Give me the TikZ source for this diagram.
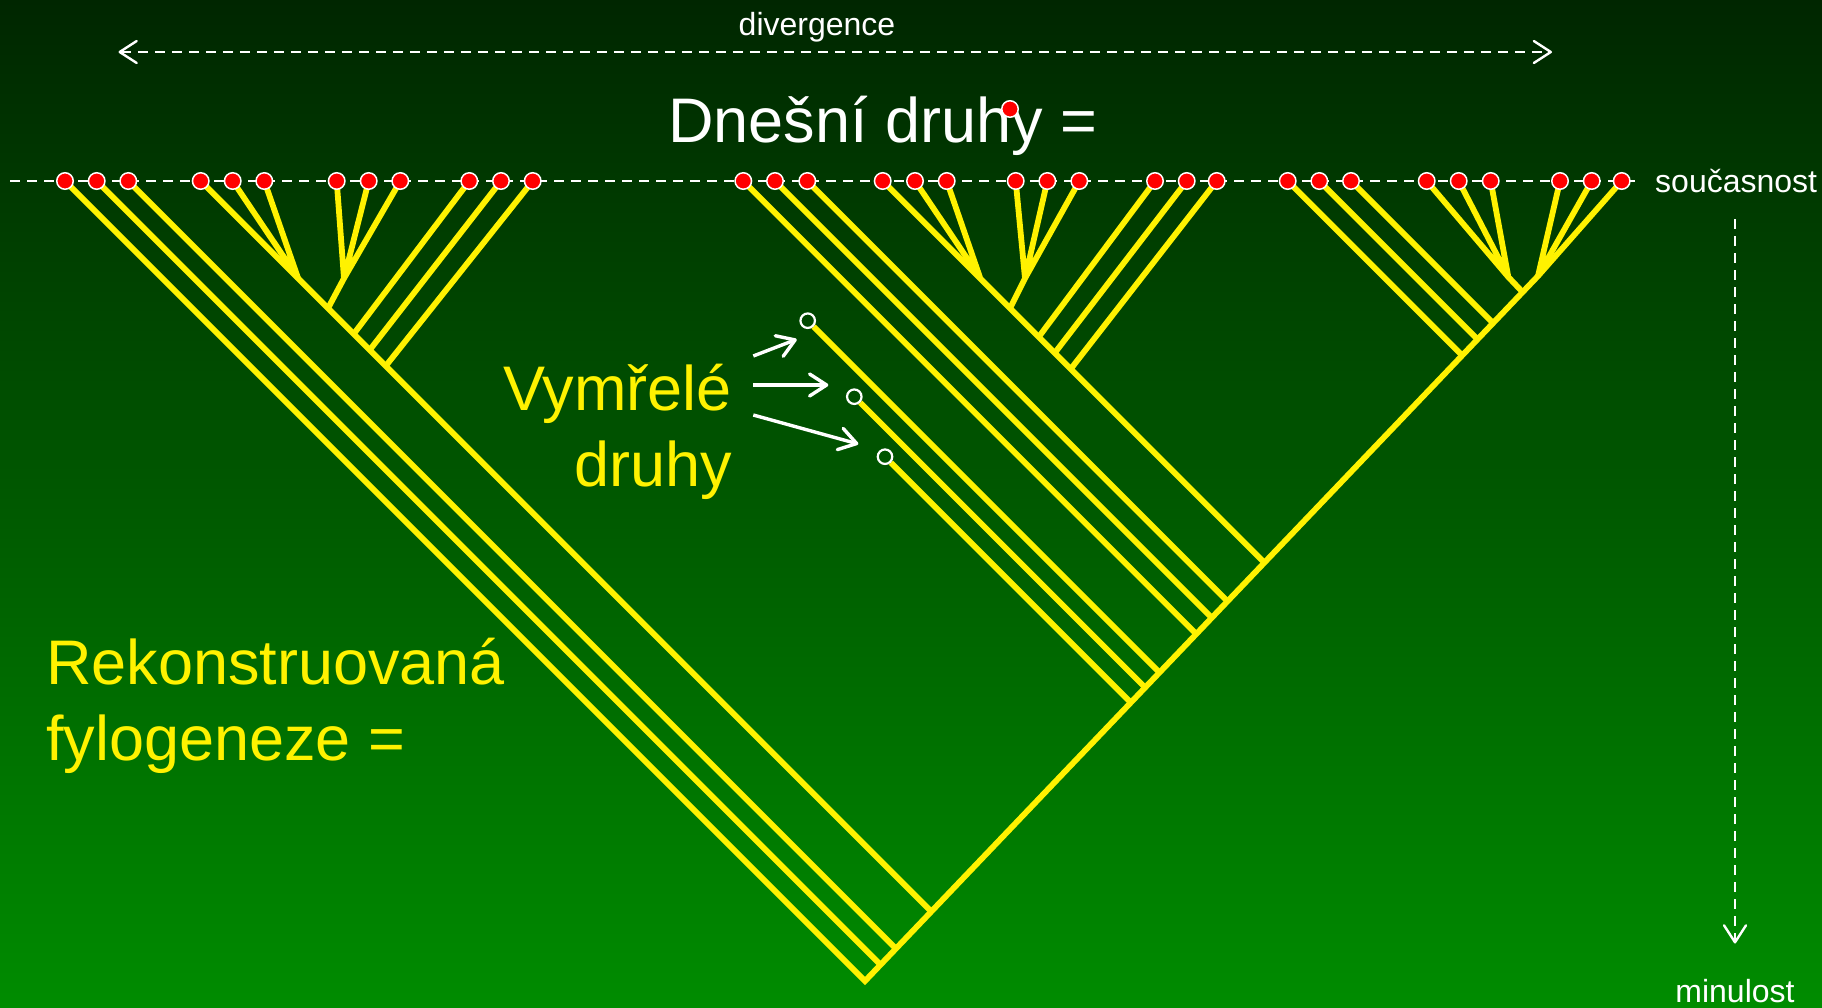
\documentclass[tikz,border=0pt]{standalone}
\usepackage{fontspec}
\setmainfont{Liberation Sans}
\usetikzlibrary{arrows.meta}

\definecolor{zelenaH}{RGB}{0,38,0}
\definecolor{zelenaD}{RGB}{0,140,0}

\pgfdeclarelayer{pozadi}
\pgfdeclarelayer{vetve}
\pgfsetlayers{pozadi,vetve,main}

\tikzset{
  druh/.style={circle, fill=red, draw=white, line width=1.5pt, minimum size=16.5pt, inner sep=0pt},
  vymrely/.style={circle, draw=white, line width=2.2pt, minimum size=14.5pt, inner sep=0pt},
  vetev/.style={draw=yellow, line width=5.8pt},
  osa/.style={draw=white, line width=2.4pt, dash pattern=on 10pt off 7pt},
  sipka/.style={draw=white, line width=3.4pt, ->},
  velky/.style={font=\fontsize{63}{76}\selectfont, inner sep=0pt},
  maly/.style={font=\fontsize{32}{38}\selectfont, text=white, inner sep=0pt},
}

\begin{document}
\begin{tikzpicture}[x=1pt, y=-1pt, >={Straight Barb[length=17pt, width=22pt, round]}]
    \useasboundingbox (0,0) rectangle (1822,1007);
    % Pozadí
    \begin{pgfonlayer}{pozadi}
        \shade[top color=zelenaH, bottom color=zelenaD] (0,0) rectangle (1822,1007);
    \end{pgfonlayer}

    % Osy: současnost, divergence, minulost
    \coordinate (t0) at (10,181);
    \coordinate (t1) at (1642,181);
    \draw[osa] (t0) -- (t1);
    \node[maly, anchor=base west] (soucasnost) at (1655,192) {současnost};
    \coordinate (d0) at (118.5,52);
    \coordinate (d1) at (1552,52);
    \draw[osa, <->] (d0) -- (d1);
    \node[maly, anchor=base] (divergence) at (817,35) {divergence};
    \coordinate (m0) at (1735,219);
    \coordinate (m1) at (1735,943.5);
    \draw[osa, ->] (m0) -- (m1);
    \node[maly, anchor=base] (minulost) at (1735,1002) {minulost};

    % Dnešní druhy
    \foreach \n/\x in {a1/65, a2/96.7, a3/128.3, a4/200.7, a5/232.7, a6/264.3,
        a7/336.7, a8/368.7, a9/400.3, a10/469.3, a11/501, a12/532.7,
        b1/743.3, b2/775, b3/807.3, b4/882.7, b5/915, b6/946.7,
        b7/1015.7, b8/1047.3, b9/1079.3, b10/1155, b11/1186.7, b12/1216.7,
        c1/1287.7, c2/1319.3, c3/1351, c4/1426.7, c5/1458.7, c6/1490.7,
        c7/1560, c8/1591.7, c9/1621.7}
        \node[druh] (\n) at (\x,181) {};

    % Vymřelé druhy
    \node[vymrely] (e1) at (807.7,320.7) {};
    \node[vymrely] (e2) at (854.3,396.7) {};
    \node[vymrely] (e3) at (885,456.7) {};

    % Uzly fylogeneze
    \coordinate (R) at (865,981);
    \coordinate (T) at (1538,276);
    \coordinate (ja2) at (880.5,964.8);
    \coordinate (ja3) at (895.9,948.6);
    \coordinate (ja4) at (931.3,911.6);
    \coordinate (P1) at (298,278);
    \coordinate (Q1) at (344,278.3);
    \coordinate (S1) at (328,308.3);
    \coordinate (ga10) at (353.7,334);
    \coordinate (ga11) at (369.7,350);
    \coordinate (ga12) at (385.7,366);
    \coordinate (jb1) at (1196.3,634);
    \coordinate (jb2) at (1211.8,617.8);
    \coordinate (jb3) at (1227.6,601.3);
    \coordinate (jb4) at (1264.4,562.7);
    \coordinate (P2) at (980,277.5);
    \coordinate (Q2) at (1025,278.3);
    \coordinate (S2) at (1010,308.3);
    \coordinate (gb10) at (1038.7,337);
    \coordinate (gb11) at (1054.7,353);
    \coordinate (gb12) at (1070.7,369);
    \coordinate (je1) at (1159.5,672.5);
    \coordinate (je2) at (1145.2,687.6);
    \coordinate (je3) at (1130.9,702.6);
    \coordinate (jc1) at (1462.2,355.5);
    \coordinate (jc2) at (1477.6,339.3);
    \coordinate (jc3) at (1493.1,323.1);
    \coordinate (PB) at (1508.3,277);
    \coordinate (jc4) at (1522.5,292);

    % Větve
    \begin{pgfonlayer}{vetve}
        \draw[vetev] (a1.center) -- (R) -- (T) -- (c9.center);
        \draw[vetev] (a2.center) -- (ja2);
        \draw[vetev] (a3.center) -- (ja3);
        \draw[vetev] (a4.center) -- (ja4);
        \draw[vetev] (a5.center) -- (P1) (a6.center) -- (P1);
        \draw[vetev] (a7.center) -- (Q1) (a8.center) -- (Q1) (a9.center) -- (Q1) -- (S1);
        \foreach \i in {10,11,12}
            \draw[vetev] (a\i.center) -- (ga\i);
        \draw[vetev] (b1.center) -- (jb1);
        \draw[vetev] (b2.center) -- (jb2);
        \draw[vetev] (b3.center) -- (jb3);
        \draw[vetev] (b4.center) -- (jb4);
        \draw[vetev] (b5.center) -- (P2) (b6.center) -- (P2);
        \draw[vetev] (b7.center) -- (Q2) (b8.center) -- (Q2) (b9.center) -- (Q2) -- (S2);
        \foreach \i in {10,11,12}
            \draw[vetev] (b\i.center) -- (gb\i);
        \foreach \i in {1,2,3}
            \draw[vetev] (e\i) -- (je\i);
        \foreach \i in {1,2,3}
            \draw[vetev] (c\i.center) -- (jc\i);
        \draw[vetev] (c4.center) -- (PB) (c5.center) -- (PB) (c6.center) -- (PB) -- (jc4);
        \draw[vetev] (c7.center) -- (T) (c8.center) -- (T);
    \end{pgfonlayer}

    % Popisky
    \node[velky, text=white, anchor=base west] (dnesni) at (668,142) {Dnešní druhy =};
    \node[druh] (legenda) at (1010,109) {};
    \node[velky, text=yellow, align=right, anchor=base east] (vymrele) at (732,486.7) {Vymřelé\\druhy};
    \node[velky, text=yellow, align=left, anchor=base west] (fylogeneze) at (46,760) {Rekonstruovaná\\fylogeneze =};

    % Šipky k vymřelým druhům
    \coordinate (s1) at (753.3,356);
    \coordinate (k1) at (796.7,339.3);
    \coordinate (s2) at (753.3,385);
    \coordinate (k2) at (828.3,385);
    \coordinate (s3) at (753.3,415);
    \coordinate (k3) at (858.3,444);
    \foreach \i in {1,2,3}
        \draw[sipka] (s\i) -- (k\i);
\end{tikzpicture}
\end{document}
